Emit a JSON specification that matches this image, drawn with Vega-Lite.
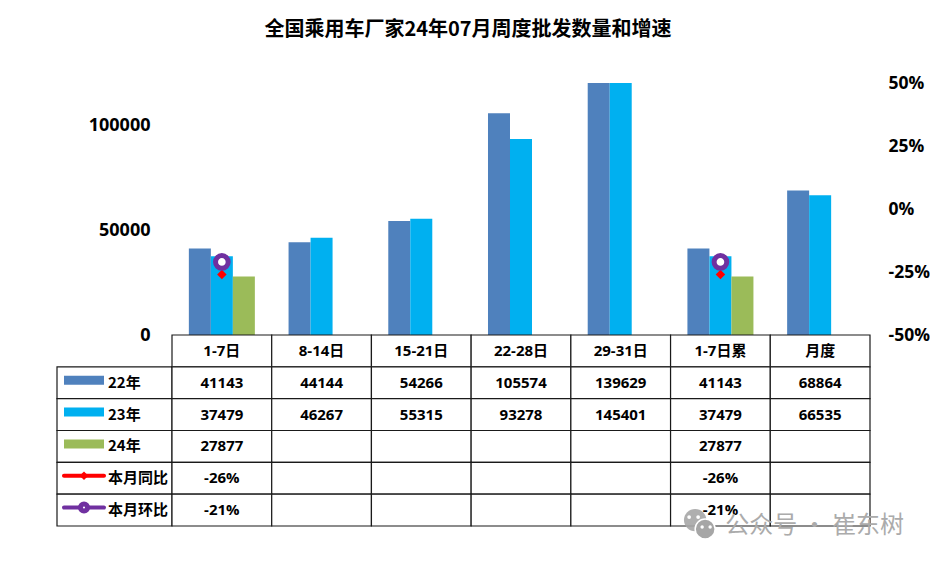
{
  "$schema": "https://vega.github.io/schema/vega-lite/v6.json",
  "padding": {"left": 56, "top": 20, "right": 0, "bottom": 0},
  "background": "white",
  "title": {"text": "全国乘用车厂家24年07月周度批发数量和增速", "font": "Noto Sans CJK SC", "fontSize": 20, "fontWeight": "bold", "color": "#000000", "anchor": "start", "dx": 208, "offset": 34},
  "config": {
    "view": {"stroke": null},
    "font": "Noto Sans CJK SC",
    "axis": {"grid": false, "domain": false, "ticks": false, "title": null, "labelFont": "Open Sans", "labelFontWeight": "bold", "labelFontSize": 18, "labelColor": "#000000"}
  },
  "datasets": {
    "sales": [
      {"week": "1-7日", "series": "22年", "sales": 41143},
      {"week": "1-7日", "series": "23年", "sales": 37479},
      {"week": "1-7日", "series": "24年", "sales": 27877},
      {"week": "8-14日", "series": "22年", "sales": 44144},
      {"week": "8-14日", "series": "23年", "sales": 46267},
      {"week": "15-21日", "series": "22年", "sales": 54266},
      {"week": "15-21日", "series": "23年", "sales": 55315},
      {"week": "22-28日", "series": "22年", "sales": 105574},
      {"week": "22-28日", "series": "23年", "sales": 93278},
      {"week": "29-31日", "series": "22年", "sales": 139629},
      {"week": "29-31日", "series": "23年", "sales": 145401},
      {"week": "1-7日累", "series": "22年", "sales": 41143},
      {"week": "1-7日累", "series": "23年", "sales": 37479},
      {"week": "1-7日累", "series": "24年", "sales": 27877},
      {"week": "月度", "series": "22年", "sales": 68864},
      {"week": "月度", "series": "23年", "sales": 66535}
    ],
    "growth": [
      {"week": "1-7日", "series": "本月同比", "growth": -0.26},
      {"week": "1-7日", "series": "本月环比", "growth": -0.21},
      {"week": "1-7日累", "series": "本月同比", "growth": -0.26},
      {"week": "1-7日累", "series": "本月环比", "growth": -0.21}
    ],
    "cells": [
      {"week": "1-7日", "row": "周", "label": "1-7日"},
      {"week": "8-14日", "row": "周", "label": "8-14日"},
      {"week": "15-21日", "row": "周", "label": "15-21日"},
      {"week": "22-28日", "row": "周", "label": "22-28日"},
      {"week": "29-31日", "row": "周", "label": "29-31日"},
      {"week": "1-7日累", "row": "周", "label": "1-7日累"},
      {"week": "月度", "row": "周", "label": "月度"},
      {"week": "1-7日", "row": "22年", "label": "41143"},
      {"week": "8-14日", "row": "22年", "label": "44144"},
      {"week": "15-21日", "row": "22年", "label": "54266"},
      {"week": "22-28日", "row": "22年", "label": "105574"},
      {"week": "29-31日", "row": "22年", "label": "139629"},
      {"week": "1-7日累", "row": "22年", "label": "41143"},
      {"week": "月度", "row": "22年", "label": "68864"},
      {"week": "1-7日", "row": "23年", "label": "37479"},
      {"week": "8-14日", "row": "23年", "label": "46267"},
      {"week": "15-21日", "row": "23年", "label": "55315"},
      {"week": "22-28日", "row": "23年", "label": "93278"},
      {"week": "29-31日", "row": "23年", "label": "145401"},
      {"week": "1-7日累", "row": "23年", "label": "37479"},
      {"week": "月度", "row": "23年", "label": "66535"},
      {"week": "1-7日", "row": "24年", "label": "27877"},
      {"week": "8-14日", "row": "24年", "label": ""},
      {"week": "15-21日", "row": "24年", "label": ""},
      {"week": "22-28日", "row": "24年", "label": ""},
      {"week": "29-31日", "row": "24年", "label": ""},
      {"week": "1-7日累", "row": "24年", "label": "27877"},
      {"week": "月度", "row": "24年", "label": ""},
      {"week": "1-7日", "row": "本月同比", "label": "-26%"},
      {"week": "8-14日", "row": "本月同比", "label": ""},
      {"week": "15-21日", "row": "本月同比", "label": ""},
      {"week": "22-28日", "row": "本月同比", "label": ""},
      {"week": "29-31日", "row": "本月同比", "label": ""},
      {"week": "1-7日累", "row": "本月同比", "label": "-26%"},
      {"week": "月度", "row": "本月同比", "label": ""},
      {"week": "1-7日", "row": "本月环比", "label": "-21%"},
      {"week": "8-14日", "row": "本月环比", "label": ""},
      {"week": "15-21日", "row": "本月环比", "label": ""},
      {"week": "22-28日", "row": "本月环比", "label": ""},
      {"week": "29-31日", "row": "本月环比", "label": ""},
      {"week": "1-7日累", "row": "本月环比", "label": "-21%"},
      {"week": "月度", "row": "本月环比", "label": ""}
    ],
    "keys": [
      {"row": "22年", "part": "key"},
      {"row": "23年", "part": "key"},
      {"row": "24年", "part": "key"},
      {"row": "本月同比", "part": "key"},
      {"row": "本月环比", "part": "key"}
    ],
    "names": [
      {"row": "22年", "part": "name"},
      {"row": "23年", "part": "name"},
      {"row": "24年", "part": "name"},
      {"row": "本月同比", "part": "name"},
      {"row": "本月环比", "part": "name"}
    ],
    "mark": [
      {"week": "月度", "row": "本月环比", "label": "公众号 · 崔东树"}
    ]
  },
  "spacing": 0,
  "bounds": "flush",
  "columns": 2,
  "concat": [
    {
      "width": 115,
      "height": 252,
      "data": {"name": "keys"},
      "mark": {"type": "text", "opacity": 0},
      "encoding": {}
    },
    {
      "width": 698,
      "height": 252,
      "layer": [
        {
          "data": {"name": "sales"},
          "mark": {"type": "bar", "clip": true},
          "encoding": {
            "x": {"field": "week", "type": "nominal", "sort": null, "axis": null, "scale": {"paddingInner": 0.338, "paddingOuter": 0.169}},
            "xOffset": {"field": "series", "type": "nominal", "scale": {"domain": ["22年", "23年", "24年"]}},
            "y": {"field": "sales", "type": "quantitative", "scale": {"domain": [0, 120000], "nice": false}, "axis": {"values": [0, 50000, 100000], "format": "d", "orient": "left", "labelPadding": 22}},
            "color": {"field": "series", "type": "nominal", "legend": null, "scale": {"domain": ["22年", "23年", "24年", "本月同比", "本月环比"], "range": ["#4f81bd", "#00b0f0", "#9bbb59", "#ff0000", "#7030a0"]}}
          }
        },
        {
          "data": {"name": "growth"},
          "transform": [{"filter": "datum.series === '本月同比'"}],
          "mark": {"type": "point", "shape": "diamond", "filled": true, "size": 90, "opacity": 1},
          "encoding": {
            "x": {"field": "week", "type": "nominal", "sort": null, "axis": null},
            "y": {"field": "growth", "type": "quantitative", "scale": {"domain": [-0.5, 0.5], "nice": false}, "axis": {"values": [-0.5, -0.25, 0, 0.25, 0.5], "format": ".0%", "labelExpr": "replace(datum.label, '−', '-')", "orient": "right", "labelPadding": 18, "labelFontSize": 17.5}},
            "color": {"field": "series", "type": "nominal", "legend": null}
          }
        },
        {
          "data": {"name": "growth"},
          "transform": [{"filter": "datum.series === '本月环比'"}],
          "mark": {"type": "point", "shape": "circle", "filled": false, "size": 160, "strokeWidth": 5, "fill": "white", "opacity": 1},
          "encoding": {
            "x": {"field": "week", "type": "nominal", "sort": null, "axis": null},
            "y": {"field": "growth", "type": "quantitative", "axis": null, "scale": {"domain": [-0.5, 0.5], "nice": false}},
            "stroke": {"value": "#7030a0"}
          }
        }
      ],
      "resolve": {"scale": {"y": "independent"}}
    },
    {
      "width": 115,
      "height": 191,
      "layer": [
        {
          "data": {"name": "keys"},
          "mark": {"type": "rect", "fill": "white", "stroke": "#1a1a1a", "strokeWidth": 1.2},
          "encoding": {
            "y": {"field": "row", "type": "nominal", "axis": null, "scale": {"domain": ["周", "22年", "23年", "24年", "本月同比", "本月环比"], "paddingInner": 0, "paddingOuter": 0}}
          }
        },
        {
          "data": {"name": "keys"},
          "transform": [{"filter": "indexof(['22年', '23年', '24年'], datum.row) >= 0"}],
          "mark": {"type": "tick", "orient": "horizontal", "size": 40, "thickness": 9, "yOffset": -2.5, "opacity": 1},
          "encoding": {
            "x": {"field": "part", "type": "nominal", "axis": null, "scale": {"type": "point", "domain": ["key", "name"], "range": [27, 51], "padding": 0}},
            "y": {"field": "row", "type": "nominal", "axis": null},
            "color": {"field": "row", "type": "nominal", "legend": null}
          }
        },
        {
          "data": {"name": "keys"},
          "transform": [{"filter": "indexof(['本月同比', '本月环比'], datum.row) >= 0"}],
          "mark": {"type": "tick", "orient": "horizontal", "size": 44, "thickness": 4, "cornerRadius": 2, "yOffset": -2.5, "opacity": 1},
          "encoding": {
            "x": {"field": "part", "type": "nominal", "axis": null},
            "y": {"field": "row", "type": "nominal", "axis": null},
            "color": {"field": "row", "type": "nominal", "legend": null}
          }
        },
        {
          "data": {"name": "keys"},
          "transform": [{"filter": "datum.row === '本月同比'"}],
          "mark": {"type": "point", "shape": "diamond", "filled": true, "size": 75, "yOffset": -2.5, "opacity": 1},
          "encoding": {
            "x": {"field": "part", "type": "nominal", "axis": null},
            "y": {"field": "row", "type": "nominal", "axis": null},
            "color": {"field": "row", "type": "nominal", "legend": null}
          }
        },
        {
          "data": {"name": "keys"},
          "transform": [{"filter": "datum.row === '本月环比'"}],
          "mark": {"type": "point", "shape": "circle", "filled": false, "fill": "white", "size": 50, "strokeWidth": 5, "yOffset": -2.5, "opacity": 1},
          "encoding": {
            "x": {"field": "part", "type": "nominal", "axis": null},
            "y": {"field": "row", "type": "nominal", "axis": null},
            "stroke": {"value": "#7030a0"}
          }
        },
        {
          "data": {"name": "names"},
          "mark": {"type": "text", "align": "left", "fontSize": 15, "fontWeight": "bold", "font": "Noto Sans CJK SC", "color": "#000000"},
          "encoding": {
            "x": {"field": "part", "type": "nominal", "axis": null},
            "y": {"field": "row", "type": "nominal", "axis": null},
            "text": {"field": "row"}
          }
        }
      ]
    },
    {
      "width": 698,
      "height": 191,
      "layer": [
        {
          "data": {"name": "cells"},
          "mark": {"type": "rect", "fill": "white", "stroke": "#1a1a1a", "strokeWidth": 1.2},
          "encoding": {
            "x": {"field": "week", "type": "nominal", "sort": null, "axis": null, "scale": {"paddingInner": 0, "paddingOuter": 0}},
            "y": {"field": "row", "type": "nominal", "axis": null, "scale": {"domain": ["周", "22年", "23年", "24年", "本月同比", "本月环比"], "paddingInner": 0, "paddingOuter": 0}}
          }
        },
        {
          "data": {"name": "cells"},
          "mark": {"type": "text", "fontSize": 15, "fontWeight": "bold", "font": "Open Sans, Noto Sans CJK SC", "color": "#000000"},
          "encoding": {
            "x": {"field": "week", "type": "nominal", "sort": null, "axis": null},
            "y": {"field": "row", "type": "nominal", "axis": null},
            "text": {"field": "label"}
          }
        },
        {
          "data": {"name": "mark"},
          "mark": {"type": "text", "align": "left", "fontSize": 24, "font": "Noto Sans CJK SC", "color": "#ababab", "dx": -95, "dy": 16},
          "encoding": {
            "x": {"field": "week", "type": "nominal", "sort": null, "axis": null},
            "y": {"field": "row", "type": "nominal", "axis": null},
            "text": {"field": "label"}
          }
        },
        {
          "data": {"name": "mark"},
          "mark": {"type": "point", "shape": "circle", "filled": true, "size": 500, "color": "#a6a6a6", "opacity": 0.9, "xOffset": -125, "yOffset": 10},
          "encoding": {
            "x": {"field": "week", "type": "nominal", "sort": null, "axis": null},
            "y": {"field": "row", "type": "nominal", "axis": null}
          }
        },
        {
          "data": {"name": "mark"},
          "mark": {"type": "point", "shape": "circle", "filled": true, "size": 400, "color": "#a6a6a6", "opacity": 1, "xOffset": -115, "yOffset": 19, "stroke": "white", "strokeWidth": 1.5},
          "encoding": {
            "x": {"field": "week", "type": "nominal", "sort": null, "axis": null},
            "y": {"field": "row", "type": "nominal", "axis": null}
          }
        },
        {
          "data": {"name": "mark"},
          "mark": {"type": "point", "shape": "circle", "filled": true, "size": 14, "color": "white", "opacity": 1, "xOffset": -131, "yOffset": 7},
          "encoding": {
            "x": {"field": "week", "type": "nominal", "sort": null, "axis": null},
            "y": {"field": "row", "type": "nominal", "axis": null}
          }
        },
        {
          "data": {"name": "mark"},
          "mark": {"type": "point", "shape": "circle", "filled": true, "size": 14, "color": "white", "opacity": 1, "xOffset": -122, "yOffset": 7},
          "encoding": {
            "x": {"field": "week", "type": "nominal", "sort": null, "axis": null},
            "y": {"field": "row", "type": "nominal", "axis": null}
          }
        },
        {
          "data": {"name": "mark"},
          "mark": {"type": "point", "shape": "circle", "filled": true, "size": 12, "color": "white", "opacity": 1, "xOffset": -118, "yOffset": 17},
          "encoding": {
            "x": {"field": "week", "type": "nominal", "sort": null, "axis": null},
            "y": {"field": "row", "type": "nominal", "axis": null}
          }
        },
        {
          "data": {"name": "mark"},
          "mark": {"type": "point", "shape": "circle", "filled": true, "size": 12, "color": "white", "opacity": 1, "xOffset": -110, "yOffset": 17},
          "encoding": {
            "x": {"field": "week", "type": "nominal", "sort": null, "axis": null},
            "y": {"field": "row", "type": "nominal", "axis": null}
          }
        }
      ]
    }
  ]
}
